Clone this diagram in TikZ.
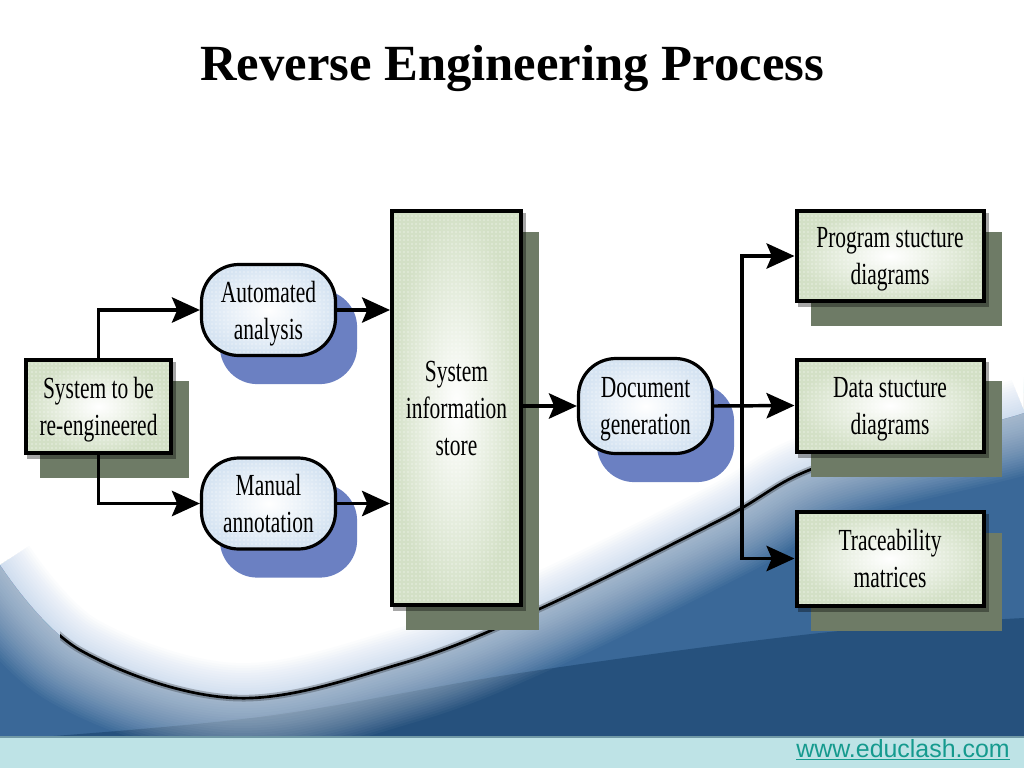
\documentclass[tikz,border=0pt]{standalone}
\usepackage{fontspec}
\setmainfont{Liberation Serif}
\newfontfamily\diagfont[FakeStretch=0.7]{Liberation Serif}
\newfontfamily\webfont{Liberation Sans}
\usetikzlibrary{arrows.meta,calc,patterns}
\pgfdeclarelayer{bgl}
\pgfdeclarelayer{shad}
\pgfsetlayers{bgl,shad,main}
\definecolor{boxfill}{HTML}{D3E0C6}
\definecolor{pillfill}{HTML}{D6E4F2}
\definecolor{shadgreen}{HTML}{6E7B66}
\definecolor{shadblue}{HTML}{6B80C2}
\definecolor{darkblue}{HTML}{26517D}
\definecolor{midblue}{HTML}{3A6898}
\definecolor{glowblue}{HTML}{8FB2DC}
\definecolor{footfill}{HTML}{BEE3E6}
\definecolor{footline}{HTML}{7199A6}
\definecolor{weblink}{HTML}{159A8E}
\begin{document}
\begin{tikzpicture}[x=0.75pt,y=-0.75pt,
  lbl/.style={font=\diagfont\fontsize{23}{27.8}\selectfont, align=center, text depth=0pt},
  sqbox/.style={lbl, draw=black, line width=3pt,
     preaction={inner color=white, outer color=boxfill},
     pattern=dots, pattern color=white},
  pill/.style={lbl, draw=black, line width=2.4pt, rounded corners=28pt,
     preaction={inner color=white, outer color=pillfill},
     pattern=dots, pattern color=white},
  conn/.style={line width=2.6pt, -{Stealth[length=21pt,width=19pt,inset=4pt]}},
  gshadow/.style={fill=shadgreen},
  bshadow/.style={fill=shadblue, rounded corners=28pt},
]
\useasboundingbox (0,0) rectangle (1024,768);

% ---------- background ----------
\begin{pgfonlayer}{bgl}
\fill[white] (0,0) rectangle (1024,768);
\fill[midblue] plot[smooth,tension=0.6] coordinates {(0,565) (80,650) (235,698) (400,664) (537,610) (720,520) (820,466) (1000,420) (1024,412)} -- (1024,737) -- (0,737) -- cycle;
\fill[darkblue] plot[smooth,tension=0.6] coordinates {(40,737) (267,716) (520,673) (820,633) (1024,618)} -- (1024,737) -- cycle;
\begin{scope}
\clip plot[smooth,tension=0.6] coordinates {(0,565) (80,650) (235,698) (400,664) (537,610) (720,520) (820,466) (1000,420) (1024,412)} -- (1024,737) -- (0,737) -- cycle;
\foreach \i in {1,...,24}
  \draw[white, opacity=0.035, line width=\i*5*0.75pt] plot[smooth,tension=0.6] coordinates {(0,565) (80,650) (235,698) (400,664) (537,610) (720,520) (820,466) (1000,420) (1024,412)};
\end{scope}
\begin{scope}
\clip plot[smooth,tension=0.6] coordinates {(0,565) (80,650) (235,698) (400,664) (537,610) (720,520) (820,466) (1000,420) (1024,412)} -- (1024,0) -- (0,0) -- cycle;
\foreach \i in {1,...,14}
  \draw[glowblue, opacity=0.03, line width=\i*5*0.75pt] plot[smooth,tension=0.6] coordinates {(0,565) (80,650) (235,698) (400,664) (537,610) (720,520) (820,466) (1000,420) (1024,412)};
\end{scope}
\begin{scope}
\clip (60,0) rectangle (845,768);
\draw[black, opacity=0.25, line width=5pt] plot[smooth,tension=0.6] coordinates {(0,565) (80,650) (235,698) (400,664) (537,610) (720,520) (820,466) (1000,420) (1024,412)};
\draw[black, line width=2pt] plot[smooth,tension=0.6] coordinates {(0,565) (80,650) (235,698) (400,664) (537,610) (720,520) (820,466) (1000,420) (1024,412)};
\end{scope}
\fill[footfill] (0,737) rectangle (1024,768);
\draw[footline, line width=1.5pt] (0,737) -- (1024,737);
\end{pgfonlayer}

% ---------- title and footer text ----------
\node[anchor=base, font=\fontsize{38}{44}\selectfont\bfseries] (title) at (512,80) {Reverse Engineering Process};
\node[anchor=base east, inner sep=0pt, text=weblink, font=\webfont\fontsize{18.7}{22}\selectfont] (web) at (1010,757) {\underline{www.educlash.com}};

% ---------- nodes ----------
\node[sqbox, minimum width=145*0.75pt, minimum height=93*0.75pt] (sys) at (98.5,406.5) {System to be\\re-engineered};
\node[pill, minimum width=134*0.75pt, minimum height=91*0.75pt] (auto) at (268.5,310) {Automated\\analysis};
\node[pill, minimum width=134*0.75pt, minimum height=91*0.75pt] (man) at (268.5,503.5) {Manual\\annotation};
\node[sqbox, minimum width=129*0.75pt, minimum height=394*0.75pt] (store) at (456.5,408) {System\\information\\store};
\node[pill, minimum width=134*0.75pt, minimum height=95*0.75pt] (doc) at (645.5,406) {Document\\generation};
\node[sqbox, minimum width=187*0.75pt, minimum height=90*0.75pt] (prog) at (890,256) {Program stucture\\diagrams};
\node[sqbox, minimum width=187*0.75pt, minimum height=92*0.75pt] (data) at (890,405.5) {Data stucture\\diagrams};
\node[sqbox, minimum width=187*0.75pt, minimum height=94*0.75pt] (trace) at (890,558.5) {Traceability\\matrices};

% ---------- shadows ----------
\begin{pgfonlayer}{shad}
\foreach \n in {sys,store,prog,data,trace}{
  \fill[gshadow] ($(\n.south west)+(16,23)$) rectangle ($(\n.north east)+(16,23)$);
  \fill[black, opacity=0.35] ($(\n.south west)+(3,4)$) rectangle ($(\n.north east)+(3,4)$);
}
\foreach \n in {auto,man,doc}
  \fill[bshadow] ($(\n.south west)+(20,27)$) rectangle ($(\n.north east)+(20,27)$);
\end{pgfonlayer}

% ---------- connectors ----------
\coordinate (br) at (742,406);
\draw[conn] (sys.north) |- (auto.west);
\draw[conn] (sys.south) |- (man.west);
\draw[conn] (auto.east) -- (auto.east -| store.west);
\draw[conn] (man.east) -- (man.east -| store.west);
\draw[conn] (store.east |- doc.west) -- (doc.west);
\draw[conn] (doc.east) -- (data.west);
\draw[conn] (br) |- (prog.west);
\draw[conn] (br) |- (trace.west);
\end{tikzpicture}
\end{document}
